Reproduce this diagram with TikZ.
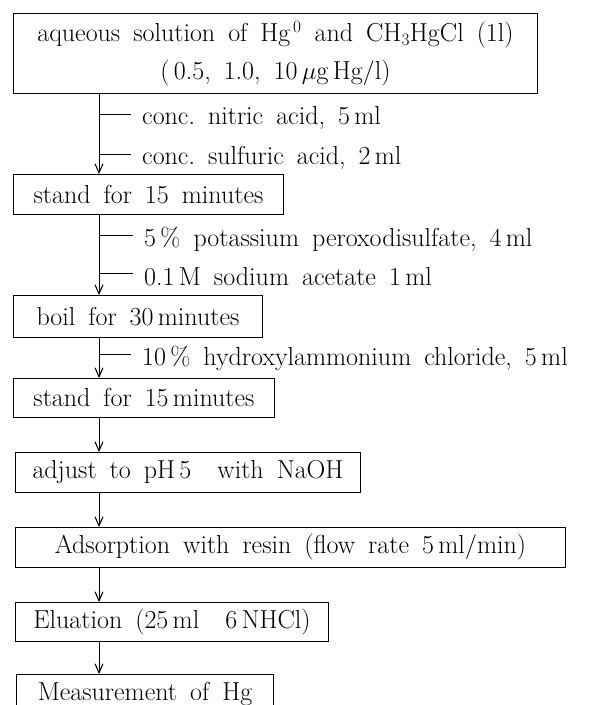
\documentclass[tikz,border=0pt]{standalone}
\usepackage{tikz}
\usetikzlibrary{positioning,arrows.meta}

\newcommand{\flowfont}{\fontsize{26}{38}\selectfont\spaceskip=0.5em plus 0.1em}

\begin{document}
\begin{tikzpicture}[
    x=1pt, y=1pt,
    box/.style={
        draw,
        line width=1pt,
        align=center,
        inner xsep=0pt,
        minimum height=40pt,
        font=\flowfont
    },
    note/.style={
        anchor=west,
        inner xsep=11pt,
        inner ysep=0pt,
        font=\flowfont
    },
    line/.style={-{Straight Barb[length=9pt,width=8pt]}, line width=1pt},
    tick/.style={line width=1pt}
]
\useasboundingbox (0,0) rectangle (600,-705);

\node[box, anchor=north west, minimum width=524pt, minimum height=80pt] (sample) at (13,-13)
    {aqueous solution of Hg$^{\,0}$ and CH$_3$HgCl (1l)\\(\,0.5,\ 1.0,\ 10\,$\mu$g\,Hg$/$l)};
\node[box, minimum width=270pt, below right=80pt and 0pt of sample.south west] (stand1) {stand for 15 minutes};
\node[box, minimum width=249pt, minimum height=42pt, below right=80pt and 0pt of stand1.south west] (boil) {boil for 30\,minutes};
\node[box, minimum width=261pt, minimum height=39pt, below right=40pt and 0pt of boil.south west] (stand2) {stand for 15\,minutes};
\node[box, minimum width=345pt, below right=34pt and 2pt of stand2.south west] (adjust) {adjust to pH\,5\ \ with NaOH};
\node[box, minimum width=550pt, below right=34pt and 0pt of adjust.south west] (resin) {Adsorption with resin (flow rate 5\,ml$/$min)};
\node[box, minimum width=313pt, minimum height=39pt, below right=34pt and 0pt of resin.south west] (elute) {Eluation (25\,ml\ \ 6\,NHCl)};
\node[box, minimum width=257pt, below right=32pt and 1pt of elute.south west] (measure) {Measurement of Hg};

% main flow line
\coordinate (spine) at ([xshift=86pt]sample.south west);

% reagents added on the way
\node[note] (nitric) at (131,-118) {conc.\ nitric acid,\ 5\,ml};
\node[note] (sulfuric) at (131,-158) {conc.\ sulfuric acid,\ 2\,ml};
\node[note] (persulf) at (133,-239) {5\,\%\ potassium peroxodisulfate,\ 4\,ml};
\node[note] (acetate) at (133,-277) {0.1\,M sodium acetate\ 1\,ml};
\node[note] (hydroxyl) at (131,-358) {10\,\%\ hydroxylammonium chloride,\ 5\,ml};

\draw[line] (sample.south -| spine) -- (stand1.north -| spine);
\draw[line] (stand1.south -| spine) -- (boil.north -| spine);
\draw[line] (boil.south -| spine) -- (stand2.north -| spine);
\draw[line] (stand2.south -| spine) -- (adjust.north -| spine);
\draw[line] (adjust.south -| spine) -- (resin.north -| spine);
\draw[line] (resin.south -| spine) -- (elute.north -| spine);
\draw[line] (elute.south -| spine) -- (measure.north -| spine);

\draw[tick] ([yshift=4pt]nitric.west -| spine) -- ([yshift=4pt]nitric.west);
\draw[tick] ([yshift=4pt]sulfuric.west -| spine) -- ([yshift=4pt]sulfuric.west);
\draw[tick] ([yshift=4pt]persulf.west -| spine) -- ([yshift=4pt]persulf.west);
\draw[tick] ([yshift=4pt]acetate.west -| spine) -- ([yshift=4pt]acetate.west);
\draw[tick] ([yshift=4pt]hydroxyl.west -| spine) -- ([yshift=4pt]hydroxyl.west);

\end{tikzpicture}
\end{document}
